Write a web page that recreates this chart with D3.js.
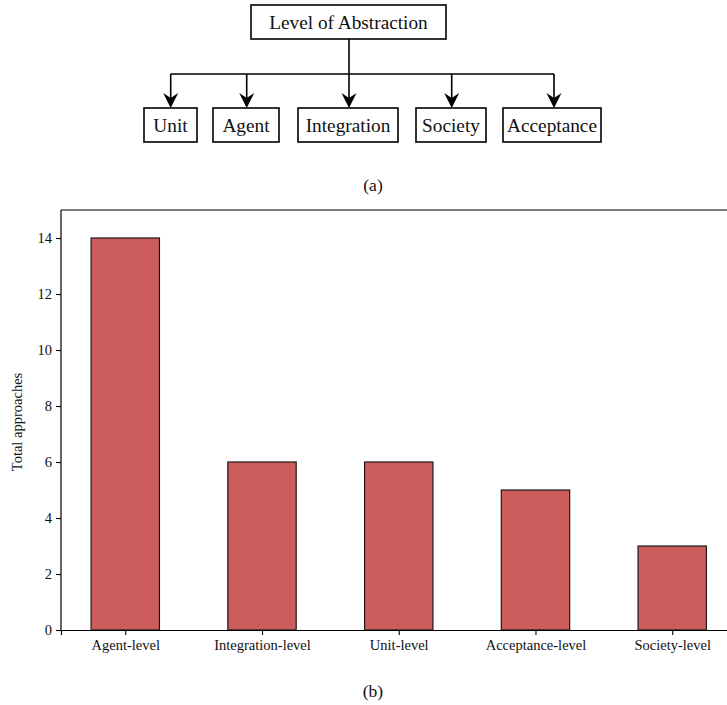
<!DOCTYPE html>
<html>
<head>
<meta charset="utf-8">
<script src="https://cdn.jsdelivr.net/npm/d3@7"></script>
<style>
  html, body { margin: 0; padding: 0; background: #fff; overflow: hidden; }
  svg { display: block; }
  text { font-family: "Liberation Serif", "Times New Roman", serif; fill: #111; }
</style>
</head>
<body>
<svg id="fig" width="727" height="705"></svg>
<script>
// Hierarchy shown in panel (a)
const rootLabel = "Level of Abstraction";
const childLabels = ["Unit", "Agent", "Integration", "Society", "Acceptance"];

// Bar chart data for panel (b)
const categories = ["Agent-level", "Integration-level", "Unit-level", "Acceptance-level", "Society-level"];
const totals = [14, 6, 6, 5, 3];
const yTicks = [0, 2, 4, 6, 8, 10, 12, 14];

const SERIF = "Liberation Serif, Times New Roman, serif";
const svg = d3.select("#fig");

// ---------- (a) tree diagram ----------
const tree = svg.append("g");
const rootBox = { x: 251, y: 5, w: 195, h: 34 };
const childBoxes = [
  { x: 144, w: 53 },
  { x: 213, w: 66 },
  { x: 298, w: 100 },
  { x: 416, w: 70 },
  { x: 503, w: 98 }
];
const childTop = 108, childH = 34, busY = 74;
const arrowX = [170.7, 246.7, 349, 451.7, 554];

tree.append("rect")
  .attr("x", rootBox.x).attr("y", rootBox.y)
  .attr("width", rootBox.w).attr("height", rootBox.h)
  .attr("fill", "#fff").attr("stroke", "#000").attr("stroke-width", 1.6);
tree.append("text")
  .attr("x", rootBox.x + rootBox.w / 2).attr("y", rootBox.y + rootBox.h / 2 + 6.5)
  .attr("text-anchor", "middle").attr("font-size", 19.3)
  .attr("font-family", SERIF)
  .text(rootLabel);

// vertical trunk and horizontal bus
tree.append("line")
  .attr("x1", 349).attr("x2", 349)
  .attr("y1", rootBox.y + rootBox.h).attr("y2", busY)
  .attr("stroke", "#000").attr("stroke-width", 1.6);
tree.append("line")
  .attr("x1", arrowX[0]).attr("x2", arrowX[arrowX.length - 1])
  .attr("y1", busY).attr("y2", busY)
  .attr("stroke", "#000").attr("stroke-width", 1.6);

childLabels.forEach((lab, i) => {
  const ax = arrowX[i];
  tree.append("line")
    .attr("x1", ax).attr("x2", ax)
    .attr("y1", busY).attr("y2", childTop - 10)
    .attr("stroke", "#000").attr("stroke-width", 1.6);
  // arrow head
  tree.append("path")
    .attr("d", `M${ax - 7.5},${childTop - 15} L${ax},${childTop - 10} L${ax + 7.5},${childTop - 15} L${ax},${childTop} Z`)
    .attr("fill", "#000");
  const b = childBoxes[i];
  tree.append("rect")
    .attr("x", b.x).attr("y", childTop)
    .attr("width", b.w).attr("height", childH)
    .attr("fill", "#fff").attr("stroke", "#000").attr("stroke-width", 1.6);
  tree.append("text")
    .attr("x", b.x + b.w / 2).attr("y", childTop + childH / 2 + 6.5)
    .attr("text-anchor", "middle").attr("font-size", 19.3)
    .attr("font-family", SERIF)
    .text(lab);
});

svg.append("text")
  .attr("x", 373).attr("y", 191)
  .attr("text-anchor", "middle").attr("font-size", 17.5)
  .attr("font-family", SERIF)
  .text("(a)");

// ---------- (b) bar chart ----------
const plot = { left: 61, top: 210, bottom: 630 };
const x = d3.scaleLinear().domain([-0.47, 4.47]).range([plot.left, 736.5]);
const step = x(1) - x(0);
const barW = step * 0.5;
const y = d3.scaleLinear().domain([0, 15]).range([plot.bottom, plot.top]);

const chart = svg.append("g");

chart.selectAll("rect.bar")
  .data(totals)
  .join("rect")
  .attr("class", "bar")
  .attr("x", (d, i) => x(i) - barW / 2)
  .attr("y", d => y(d))
  .attr("width", barW)
  .attr("height", d => y(0) - y(d))
  .attr("fill", "#cd5c5c")
  .attr("stroke", "#1a1a1a")
  .attr("stroke-width", 1.2);

// spines (left, top, bottom; right edge falls outside the view)
chart.append("line").attr("x1", plot.left).attr("x2", plot.left)
  .attr("y1", plot.top).attr("y2", plot.bottom)
  .attr("stroke", "#000").attr("stroke-width", 1.2);
chart.append("line").attr("x1", plot.left).attr("x2", 736.5)
  .attr("y1", plot.top).attr("y2", plot.top)
  .attr("stroke", "#000").attr("stroke-width", 1.2);

// y axis
const yAxis = d3.axisLeft(y).tickValues(yTicks).tickSize(5).tickPadding(4).tickFormat(d3.format("d"));
const yg = chart.append("g").attr("transform", `translate(${plot.left},0)`).call(yAxis);
yg.attr("font-family", SERIF);
yg.select(".domain").remove();
yg.selectAll(".tick line").attr("stroke", "#000").attr("stroke-width", 1.1);
yg.selectAll(".tick text").attr("font-size", 14.5)
  .attr("font-family", SERIF).attr("fill", "#222");

// x axis
const xAxis = d3.axisBottom(x).tickValues(d3.range(categories.length))
  .tickSize(5).tickPadding(5).tickFormat(i => categories[i]);
const xg = chart.append("g").attr("transform", `translate(0,${plot.bottom})`).call(xAxis);
xg.attr("font-family", SERIF);
xg.select(".domain").attr("stroke", "#000").attr("stroke-width", 1.2);
xg.selectAll(".tick line").attr("stroke", "#000").attr("stroke-width", 1.1);
xg.selectAll(".tick text").attr("font-size", 14.5)
  .attr("font-family", SERIF).attr("fill", "#222");

// y axis title
chart.append("text")
  .attr("transform", `translate(22,${(plot.top + plot.bottom) / 2 + 2}) rotate(-90)`)
  .attr("text-anchor", "middle").attr("font-size", 14.5)
  .attr("font-family", SERIF)
  .text("Total approaches");

svg.append("text")
  .attr("x", 373).attr("y", 697)
  .attr("text-anchor", "middle").attr("font-size", 17.5)
  .attr("font-family", SERIF)
  .text("(b)");
</script>
</body>
</html>
